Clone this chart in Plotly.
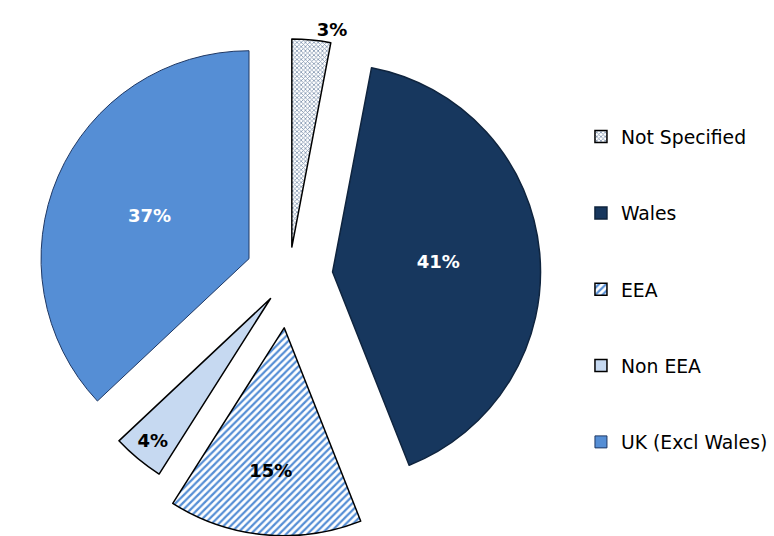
import plotly.graph_objects as go

# Share of respondents by place of origin (percent)
categories = ["Not Specified", "Wales", "EEA", "Non EEA", "UK (Excl Wales)"]
shares = [3, 41, 15, 4, 37]

# Exploded distance of each slice, as a fraction of the radius
pulls = [0.14, 0.21, 0.25, 0.14, 0.21]

fill_colors = ["white", "#17375E", "white", "#C6D9F1", "#558ED5"]
pattern_shapes = ["x", "", "/", "", ""]
pattern_fg = ["#8093AE", "#17375E", "#558ED5", "#C6D9F1", "#558ED5"]
edge_colors = ["black", "#0F243E", "black", "black", "#1F3864"]
edge_widths = [1.5, 1.5, 1.5, 1.5, 1.0]
label_colors = ["black", "white", "black", "black", "white"]
label_positions = ["outside", "inside", "inside", "inside", "inside"]

# Legend entries padded with blank lines to spread them out vertically
legend_labels = [f"<br>{c}<br>" for c in categories]

fig = go.Figure(
    go.Pie(
        labels=legend_labels,
        values=shares,
        customdata=categories,
        sort=False,
        direction="clockwise",
        rotation=0,
        pull=pulls,
        marker=dict(
            colors=fill_colors,
            line=dict(color=edge_colors, width=edge_widths),
            pattern=dict(
                shape=pattern_shapes,
                fgcolor=pattern_fg,
                bgcolor=fill_colors,
                size=[3, 8, 5, 8, 8],
                solidity=[0.45, 0.3, 0.45, 0.3, 0.3],
            ),
        ),
        texttemplate="%{value}%",
        textposition=label_positions,
        insidetextorientation="horizontal",
        textfont=dict(family="DejaVu Sans", size=18, weight="bold", color=label_colors),
        hovertemplate="%{customdata}: %{value}%<extra></extra>",
        domain=dict(x=[0.0, 0.747], y=[0.0, 0.97]),
    )
)

fig.update_layout(
    width=774,
    height=536,
    margin=dict(l=0, r=0, t=0, b=0, autoexpand=False),
    paper_bgcolor="white",
    plot_bgcolor="white",
    uniformtext=dict(minsize=18, mode="show"),
    legend=dict(
        x=0.7506,
        xanchor="left",
        y=0.46,
        yanchor="middle",
        font=dict(family="DejaVu Sans", size=18.8, color="black"),
        valign="middle",
        traceorder="normal",
    ),
)

fig.write_html("out.html")
